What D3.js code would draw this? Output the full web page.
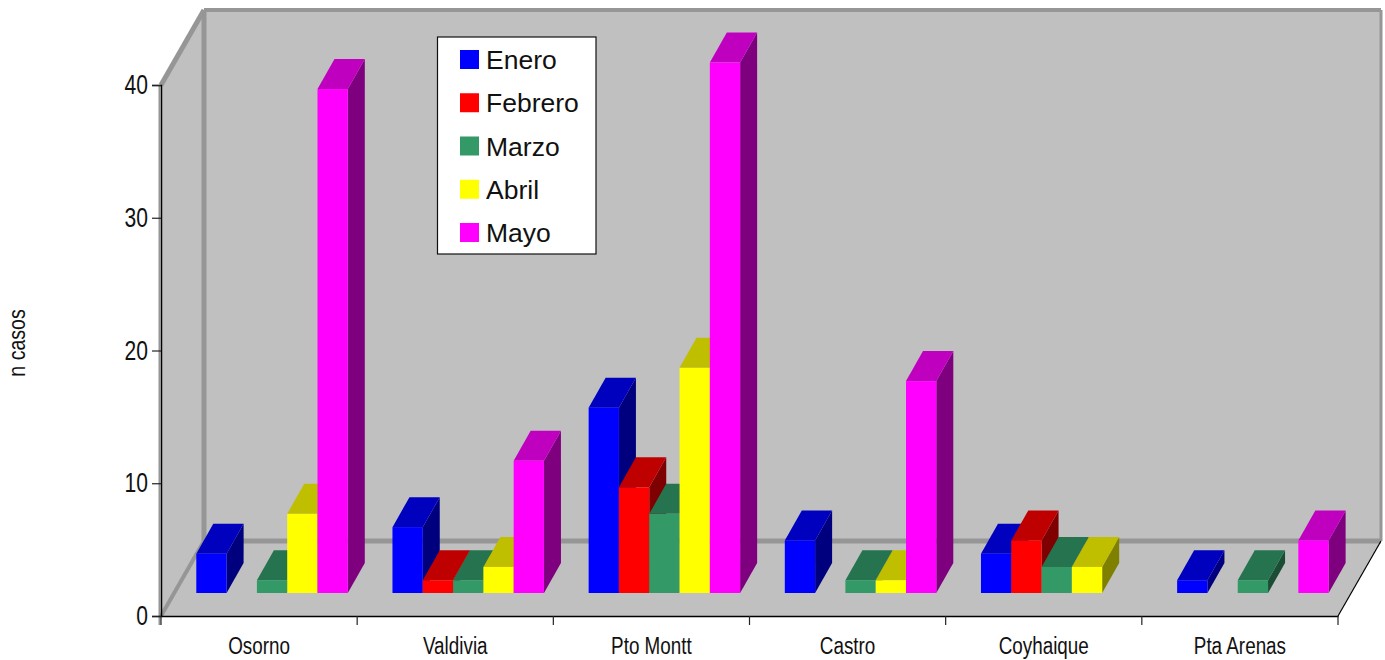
<!DOCTYPE html>
<html><head><meta charset="utf-8">
<style>html,body{margin:0;padding:0;background:#fff}svg{display:block}
text{font-family:"Liberation Sans",Arial,sans-serif;fill:#111}</style>
<script src="https://cdn.jsdelivr.net/npm/d3@7"></script></head><body>
<svg id="c" width="1385" height="660"></svg>
<script>
const cities = ["Osorno","Valdivia","Pto Montt","Castro","Coyhaique","Pta Arenas"];
const months = ["Enero","Febrero","Marzo","Abril","Mayo"];
const enero   = [3,5,14,4,3,1];
const febrero = [0,1,8,0,4,0];
const marzo   = [1,1,6,1,2,1];
const abril   = [6,2,17,1,2,0];
const mayo    = [38,10,40,16,0,4];
const seriesValues = [enero,febrero,marzo,abril,mayo];
const frontColors = ["#0000ff","#ff0000","#339966","#ffff00","#ff00ff"];
const topColors   = ["#0000bf","#bf0000","#267350","#bfbf00","#bf00bf"];
const sideColors  = ["#00007f","#7f0000","#1a4d33","#7f7f00","#7f007f"];
const yTicks = [0,10,20,30,40];

const svg = d3.select("#c");
const x0 = 161, x1 = 1338, yb = 616, yt = 85;      // front plane of the plot
const dx = 43, dy = -75;                           // box depth
const x = d3.scaleBand().domain(cities).range([x0,x1]);
const y = d3.scaleLinear().domain([0,40]).range([yb,yt]);
const inner = d3.scaleBand().domain(months).range([35.3,35.3+151.5]);
const barDx = 17, barDy = -30, baseLift = 23, topLift = 22.5;
const GREY = "#969696", WALL = "#c0c0c0";
const pts = a => a.map(p=>p.join(",")).join(" ");

// walls and floor
svg.append("polygon").attr("points",pts([[x0,yt],[x0+dx,yt+dy],[x1+dx,yt+dy],[x1+dx,yb+dy],[x1,yb],[x0,yb]])).attr("fill",WALL);
const frame = [
  [[x0,yt],[x0+dx,yt+dy],5],[[x0+dx,yt+dy],[x1+dx,yt+dy],4],[[x0+dx,yt+dy],[x0+dx,yb+dy],5],
  [[x0+dx,yb+dy],[x1+dx,yb+dy],5],[[x1+dx,yt+dy],[x1+dx,yb+dy],3],[[x0,yb],[x0+dx,yb+dy],4],[[x0-1.5,yt],[x0-1.5,yb+9],2]];
svg.selectAll("line.f").data(frame).join("line").attr("class","f")
  .attr("x1",d=>d[0][0]).attr("y1",d=>d[0][1]).attr("x2",d=>d[1][0]).attr("y2",d=>d[1][1])
  .attr("stroke",GREY).attr("stroke-width",d=>d[2]);

// bars
cities.forEach((c,ci)=>{
  months.forEach((m,mi)=>{
    const v = seriesValues[mi][ci];
    if(!v) return;
    const l = x(c)+inner(m), r = l+inner.bandwidth();
    const b = yb-baseLift, t = y(v)-topLift;
    const g = svg.append("g");
    g.append("polygon").attr("points",pts([[r,b],[r+barDx,b+barDy],[r+barDx,t+barDy],[r,t]])).attr("fill",sideColors[mi]);
    g.append("polygon").attr("points",pts([[l,t],[l+barDx,t+barDy],[r+barDx,t+barDy],[r,t]])).attr("fill",topColors[mi]);
    g.append("rect").attr("x",l).attr("y",t).attr("width",r-l).attr("height",b-t).attr("fill",frontColors[mi]);
  });
});

// axes
const yAxis = d3.axisLeft(y).tickValues(yTicks).tickSize(9).tickPadding(3);
const ya = svg.append("g").attr("transform",`translate(${x0},0)`).call(yAxis);
ya.selectAll("text").attr("font-size",27).style("font-family",'"Liberation Sans",Arial,sans-serif')
  .attr("x",0).attr("transform","translate(-13,0) scale(0.78,1)");
const xAxis = d3.axisBottom(x).tickSize(0).tickPadding(0);
const xa = svg.append("g").attr("transform",`translate(0,${yb})`).call(xAxis);
xa.selectAll("text").attr("font-size",23).style("font-family",'"Liberation Sans",Arial,sans-serif')
  .attr("y",0).attr("dy",0).attr("transform","translate(0,37.5) scale(0.82,1)");
xa.selectAll(".bt").data(d3.range(cities.length+1)).join("line").attr("class","bt")
  .attr("x1",i=>x0+i*x.bandwidth()).attr("x2",i=>x0+i*x.bandwidth()).attr("y1",0).attr("y2",9).attr("stroke","#222").attr("stroke-width",1.2);
svg.selectAll(".domain").attr("stroke","#000").attr("stroke-width",1.5);
svg.selectAll(".tick line").attr("stroke","#222").attr("stroke-width",1.2);
svg.append("line").attr("x1",x1).attr("y1",yb).attr("x2",x1+dx).attr("y2",yb+dy).attr("stroke","#000").attr("stroke-width",1.2);

svg.append("text").attr("transform","translate(25,343) rotate(-90) scale(0.85,1)").attr("text-anchor","middle").attr("font-size",23).text("n casos");

// legend
const lg = svg.append("g");
lg.append("rect").attr("x",437.5).attr("y",37).attr("width",158.5).attr("height",217).attr("fill","#fff").attr("stroke","#111").attr("stroke-width",1.2);
const rowY = d3.scalePoint().domain(months).range([50,223]);
months.forEach((m,i)=>{
  lg.append("rect").attr("x",460).attr("y",rowY(m)).attr("width",19).attr("height",19).attr("fill",frontColors[i]);
  lg.append("text").attr("x",486).attr("y",rowY(m)+19).attr("font-size",26.5).style("font-family",'"Liberation Sans",Arial,sans-serif').text(m);
});
</script></body></html>
